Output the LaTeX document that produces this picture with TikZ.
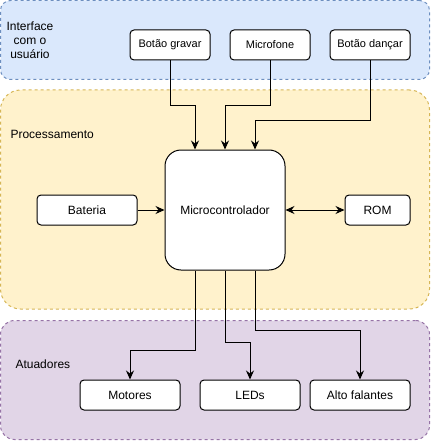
\documentclass[tikz,border=0pt]{standalone}
\usepackage{fontspec}
\setmainfont{Liberation Sans}
\definecolor{uiblue}{HTML}{DAE8FC}
\definecolor{uibluedraw}{HTML}{6C8EBF}
\definecolor{procyellow}{HTML}{FFF2CC}
\definecolor{procyellowdraw}{HTML}{D6B656}
\definecolor{actpurple}{HTML}{E1D5E7}
\definecolor{actpurpledraw}{HTML}{9673A6}
\usetikzlibrary{arrows.meta, positioning, calc}

\begin{document}
\begin{tikzpicture}[x=1pt, y=-1pt,
    region/.style={dash pattern=on 3pt off 3pt, line width=1pt, inner sep=0pt, minimum width=429pt},
    block/.style={draw, fill=white, rounded corners=4pt, line width=1pt, inner sep=0pt, minimum height=30pt, minimum width=100pt, font=\fontsize{12}{14}\selectfont},
    smallblock/.style={block, minimum width=80pt, font=\fontsize{11}{13}\selectfont},
    grouplabel/.style={font=\fontsize{12}{14}\selectfont, align=center},
    arr/.style={line width=1pt, -{Stealth[length=9pt, width=8pt, inset=3pt]}},
    darr/.style={line width=1pt, {Stealth[length=9pt, width=8pt, inset=3pt]}-{Stealth[length=9pt, width=8pt, inset=3pt]}}]
  \useasboundingbox (0,0) rectangle (431,441);

  % Regions
  \node[region, draw=uibluedraw, fill=uiblue, rounded corners=10pt, minimum height=79pt] (uiregion) at (215,40) {};
  \node[region, draw=procyellowdraw, fill=procyellow, rounded corners=20pt, minimum height=219pt] (procregion) at (215,199.5) {};
  \node[region, draw=actpurpledraw, fill=actpurple, rounded corners=14pt, minimum height=119pt] (actregion) at (215,380) {};

  % Region labels
  \node[grouplabel] (uilabel) at (30,40) {Interface\\com o\\usuário};
  \node[grouplabel, anchor=west] (proclabel) at (7,134) {Processamento};
  \node[grouplabel, anchor=west] (actlabel) at (12,364) {Atuadores};

  % Inputs
  \node[smallblock] (gravar) at (170,45) {Botão gravar};
  \node[smallblock] (mic) at (270,45) {Microfone};
  \node[smallblock] (danca) at (370,45) {Botão dançar};

  % Processing
  \node[block, rounded corners=16pt, minimum width=120pt, minimum height=120pt] (micro) at (225,210) {Microcontrolador};
  \node[block] (bateria) at (87,210) {Bateria};
  \node[block, minimum width=65pt] (rom) at (377.5,210) {ROM};

  % Actuators
  \node[block] (motores) at (130,395) {Motores};
  \node[block] (leds) at (250,395) {LEDs};
  \node[block] (alto) at (360,395) {Alto falantes};

  % Connections
  \draw[arr] (gravar.south) -- ++(0,45) -| ([xshift=-30pt]micro.north);
  \draw[arr] (mic.south) -- ++(0,45) -| (micro.north);
  \draw[arr] (danca.south) -- ++(0,60) -| ([xshift=30pt]micro.north);
  \draw[arr] (bateria) -- (micro);
  \draw[darr] (micro) -- (rom);
  \draw[arr] ([xshift=-30pt]micro.south) -- ++(0,80) -| (motores.north);
  \draw[arr] (micro.south) -- ++(0,72) -| (leds.north);
  \draw[arr] ([xshift=30pt]micro.south) -- ++(0,60) -| (alto.north);
\end{tikzpicture}
\end{document}
